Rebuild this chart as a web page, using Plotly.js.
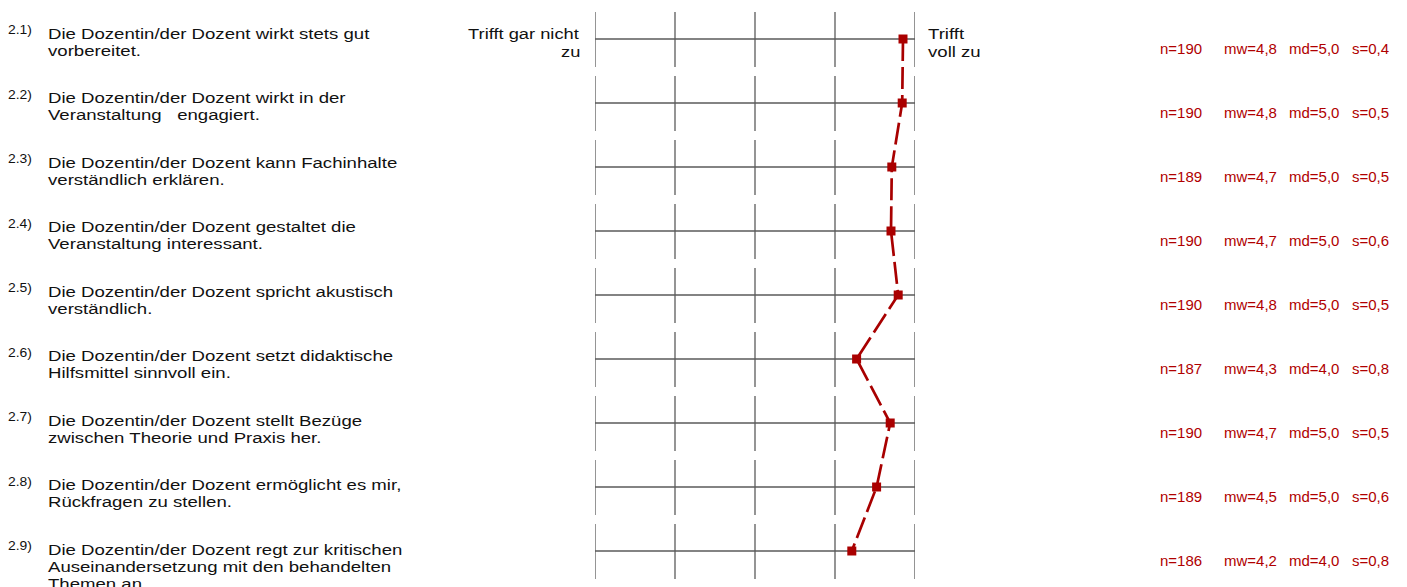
<!DOCTYPE html>
<html>
<head>
<meta charset="utf-8">
<script src="https://cdn.plot.ly/plotly-3.0.1.min.js"></script>
<style>html,body{margin:0;padding:0;background:#fff;}#chart{width:1407px;height:587px;}</style>
</head>
<body>
<div id="chart"></div>
<script>
// ---- data ----
const itemIds = ['2.1)', '2.2)', '2.3)', '2.4)', '2.5)', '2.6)', '2.7)', '2.8)', '2.9)'];
const questions = [
  'Die Dozentin/der Dozent wirkt stets gut<br>vorbereitet.',
  'Die Dozentin/der Dozent wirkt in der<br>Veranstaltung\u00a0\u00a0 engagiert.',
  'Die Dozentin/der Dozent kann Fachinhalte<br>verständlich erklären.',
  'Die Dozentin/der Dozent gestaltet die<br>Veranstaltung interessant.',
  'Die Dozentin/der Dozent spricht akustisch<br>verständlich.',
  'Die Dozentin/der Dozent setzt didaktische<br>Hilfsmittel sinnvoll ein.',
  'Die Dozentin/der Dozent stellt Bezüge<br>zwischen Theorie und Praxis her.',
  'Die Dozentin/der Dozent ermöglicht es mir,<br>Rückfragen zu stellen.',
  'Die Dozentin/der Dozent regt zur kritischen<br>Auseinandersetzung mit den behandelten<br>Themen an.'
];
const profileMeans = [4.85, 4.84, 4.71, 4.70, 4.79, 4.27, 4.69, 4.52, 4.21];
const nValues = [190, 190, 189, 190, 190, 187, 190, 189, 186];
const mwValues = ['4,8', '4,8', '4,7', '4,7', '4,8', '4,3', '4,7', '4,5', '4,2'];
const mdValues = ['5,0', '5,0', '5,0', '5,0', '5,0', '4,0', '5,0', '5,0', '4,0'];
const sValues = ['0,4', '0,5', '0,5', '0,6', '0,5', '0,8', '0,5', '0,6', '0,8'];
const scaleTicks = [1, 2, 3, 4, 5];
const leftPole = 'Trifft gar nicht<br>zu';
const rightPole = 'Trifft<br>voll zu';

// ---- geometry ----
const W = 1407, H = 587;
const rowPx = 64, firstRowPx = 39;
const rows = itemIds.map((_, i) => i);
const px = p => p / W;

// horizontal lines
const hx = [], hy = [];
rows.forEach(r => { hx.push(scaleTicks[0], scaleTicks[scaleTicks.length - 1], null); hy.push(r, r, null); });
// vertical tick segments
const vx = [], vy = [];
rows.forEach(r => {
  scaleTicks.forEach(t => { vx.push(t, t, null); vy.push(r - 27 / rowPx, r + 28 / rowPx, null); });
});

const traces = [
  {x: vx, y: vy, mode: 'lines', line: {color: '#7a7a7a', width: 1.6}, hoverinfo: 'skip'},
  {x: hx, y: hy, mode: 'lines', line: {color: '#5a5a5a', width: 1.3}, hoverinfo: 'skip'},
  {x: profileMeans, y: rows, mode: 'lines+markers', cliponaxis: false,
   line: {color: '#a80000', width: 2.7, dash: '22px,6px'},
   marker: {symbol: 'square', size: 9, color: '#aa0000'}}
];

const font = 'Arial, "Liberation Sans", sans-serif';
const ann = [];
const stretch = []; // horizontal stretch per annotation (reference text is drawn wide)
function add(a, s) { ann.push(a); stretch.push(s || 1); }
// one annotation per text line, so the line spacing matches the reference
function addLines(text, xPx, row, firstOffset, spacing, anchor, f, s) {
  text.split('<br>').forEach((line, j) => add({
    xref: 'paper', yref: 'y', x: px(xPx + (anchor === 'right' ? 2 : -2)), y: row,
    xanchor: anchor, yanchor: 'middle', yshift: -(firstOffset + j * spacing),
    text: line, showarrow: false, align: anchor, font: f}, s));
}
const labelFont = {family: font, size: 15.5, color: '#111'};
rows.forEach(i => {
  const drift = 0.5 * i;
  addLines(itemIds[i], 8, i, -9.5 + drift, 0, 'left', {family: font, size: 13, color: '#111'}, 1.07);
  addLines(questions[i], 48, i, -6 + drift, 17.2, 'left', labelFont, 1.2);
  const statFont = {family: font, size: 15, color: '#b00000'};
  [['n=' + nValues[i], 1160], ['mw=' + mwValues[i], 1224], ['md=' + mdValues[i], 1289], ['s=' + sValues[i], 1352]]
    .forEach(([t, xp]) => addLines(t, xp, i, 9, 0, 'left', statFont, 1));
});
addLines(leftPole, 580, 0, -5.5, 18, 'right', labelFont, 1.18);
addLines(rightPole, 928, 0, -5.5, 18, 'left', labelFont, 1.2);

const layout = {
  width: W, height: H, margin: {l: 0, r: 0, t: 0, b: 0},
  paper_bgcolor: '#fff', plot_bgcolor: '#fff', showlegend: false,
  xaxis: {domain: [595 / W, 915 / W], range: [1, 5], visible: false, fixedrange: true},
  yaxis: {domain: [0, 1], range: [(H - firstRowPx) / rowPx, -firstRowPx / rowPx], visible: false, fixedrange: true},
  annotations: ann
};
Plotly.newPlot('chart', traces, layout, {staticPlot: true, displayModeBar: false}).then(gd => {
  gd.querySelectorAll('g.annotation').forEach(g => {
    const k = +g.getAttribute('data-index');
    const s = stretch[k];
    if (!s || s === 1) return;
    const t = g.querySelector('text.annotation-text');
    if (!t) return;
    const bb = t.getBBox();
    const ax = ann[k].align === 'right' ? bb.x + bb.width : bb.x;
    t.setAttribute('transform', `translate(${ax},0) scale(${s},1) translate(${-ax},0)`);
  });
});
</script>
</body>
</html>
